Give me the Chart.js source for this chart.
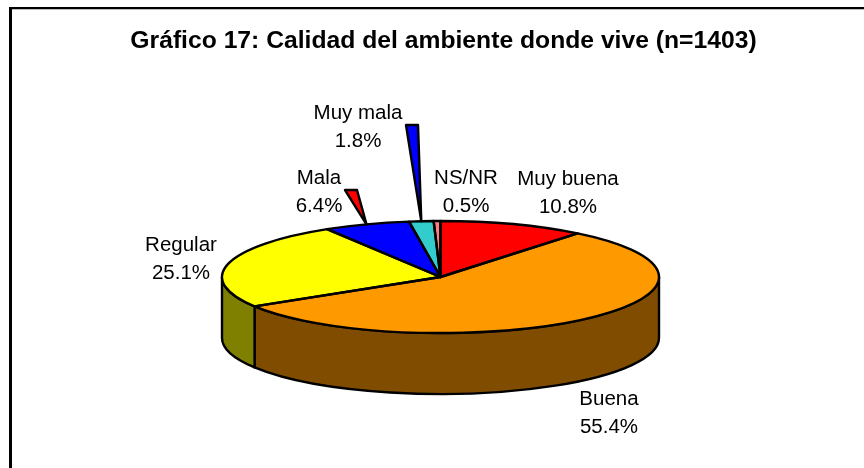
<!DOCTYPE html>
<html><head><meta charset="utf-8">
<style>html,body{margin:0;padding:0;background:#fff;overflow:hidden}
#w{position:absolute;left:0;top:0;width:864px;height:468px}</style>
<script src="https://cdn.jsdelivr.net/npm/chart.js@4"></script></head>
<body><div id="w"><canvas id="c" width="864" height="468"></canvas></div>
<script>
const categories=['Muy buena','Buena','Regular','Mala','Muy mala','NS/NR'];
const shares=[10.8,55.4,25.1,6.4,1.8,0.5];
const topColors=['#FF0000','#FF9900','#FFFF00','#0000FF','#33CCCC','#FF8080'];
const wallColors=['#800000','#804D00','#808000','#000080','#1A6666','#804040'];
const titleText='Gráfico 17: Calidad del ambiente donde vive (n=1403)';
// label anchor: centre x, first baseline y
const labelSpots=[[568,185],[609,405],[181,251],[319,184],[358,119],[466,184]];
// callout wedges: slice index, colour, far end of the wedge
const callouts=[[3,'#FF0000',345,357,190],[4,'#0000FF',406,418,125]];
const CX=440.5,CY=277,RX=218.5,RY=56,DEPTH=61;
const pie3d={id:'pie3d',
 beforeDatasetsDraw(ch){
  const ctx=ch.ctx,arcs=ch.getDatasetMeta(0).data;
  ctx.save();ctx.lineWidth=2.4;ctx.strokeStyle='#000';ctx.lineJoin='round';
  arcs.forEach((a,i)=>{
   const s=Math.max(a.startAngle,0),e=Math.min(a.endAngle,Math.PI);
   if(e<=s)return;
   ctx.beginPath();
   ctx.ellipse(CX,CY,RX,RY,0,s,e);
   ctx.ellipse(CX,CY+DEPTH,RX,RY,0,e,s,true);
   ctx.closePath();ctx.fillStyle=wallColors[i];ctx.fill();ctx.stroke();
  });
  ctx.restore();
  ctx.save();
  ctx.translate(CX,CY);ctx.scale(1,RY/RX);ctx.translate(-arcs[0].x,-arcs[0].y);
 },
 afterDatasetsDraw(ch){
  const ctx=ch.ctx,arcs=ch.getDatasetMeta(0).data;
  ctx.restore();
  ctx.save();ctx.lineWidth=2.4;ctx.strokeStyle='#000';ctx.lineJoin='round';
  arcs.forEach(a=>{
   ctx.beginPath();ctx.moveTo(CX,CY);
   ctx.ellipse(CX,CY,RX,RY,0,a.startAngle,a.endAngle);
   ctx.closePath();ctx.stroke();
  });
  callouts.forEach(([i,col,x0,x1,y])=>{
   const m=(arcs[i].startAngle+arcs[i].endAngle)/2;
   ctx.beginPath();ctx.moveTo(x0,y);ctx.lineTo(x1,y);
   ctx.lineTo(CX+RX*Math.cos(m),CY+RY*Math.sin(m));ctx.closePath();
   ctx.fillStyle=col;ctx.fill();ctx.stroke();
  });
  ctx.fillStyle='#000';ctx.textAlign='center';ctx.textBaseline='alphabetic';
  ctx.font='20.5px "Liberation Sans"';
  categories.forEach((n,i)=>{
   const [x,y]=labelSpots[i];
   ctx.fillText(n,x,y);ctx.fillText(shares[i].toFixed(1)+'%',x,y+28);
  });
  ctx.restore();
 }};
const frame={id:'frame',beforeDraw(ch){const c=ch.ctx;c.save();c.fillStyle='#fff';c.fillRect(0,0,864,468);
 c.fillStyle='#bbb';c.fillRect(12,9,852,1);
 c.fillStyle='#000';c.fillRect(9,7,855,2);c.fillRect(9,7,3,461);c.restore();}};
new Chart(document.getElementById('c'),{type:'pie',
 data:{labels:categories,datasets:[{data:shares,backgroundColor:topColors,borderWidth:0}]},
 options:{responsive:false,animation:false,rotation:0,
  layout:{padding:{left:222,right:205,top:15.5,bottom:15.5}},
  plugins:{legend:{display:false},tooltip:{enabled:false},
   title:{display:false}}},
 plugins:[frame,pie3d,{id:'t',afterDraw(ch){const c=ch.ctx;c.save();c.fillStyle='#000';c.textAlign='center';
   c.font='bold 24.7px "Liberation Sans"';c.fillText(titleText,443.5,48);c.restore();}}]});
</script></body></html>
